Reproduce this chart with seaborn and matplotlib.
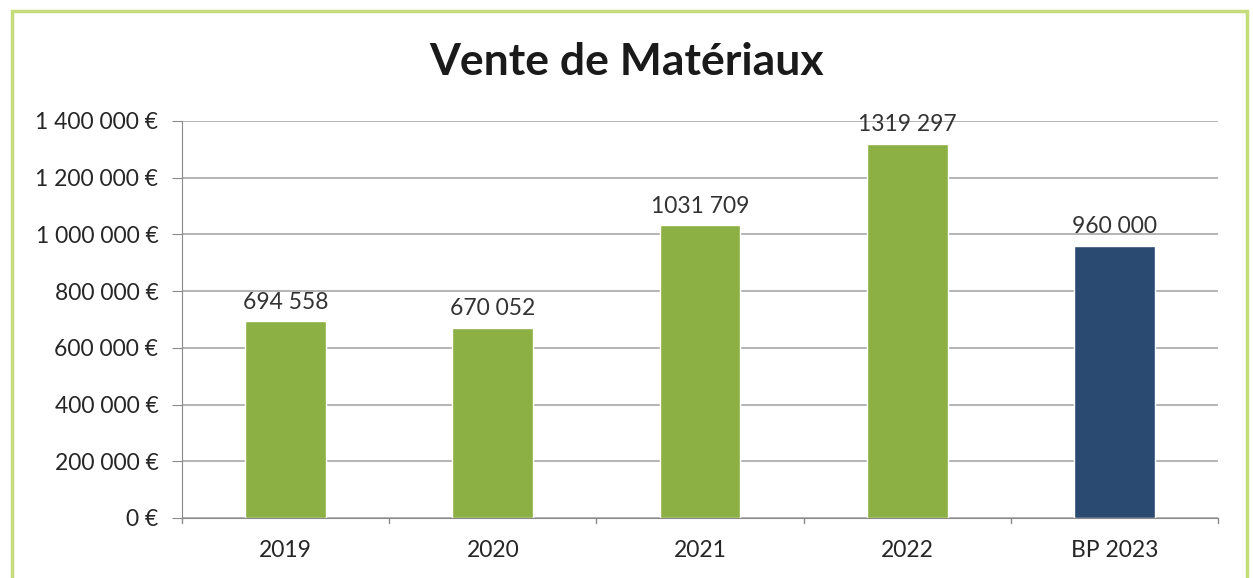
import matplotlib
matplotlib.use("Agg")
import matplotlib.pyplot as plt
import seaborn as sns
import pandas as pd
from matplotlib.patches import Rectangle

categories = ["2019", "2020", "2021", "2022", "BP 2023"]
values = [694558, 670052, 1031709, 1319297, 960000]
labels = ["694 558", "670 052", "1031 709", "1319 297", "960 000"]
bar_colors = ["#8CB043", "#8CB043", "#8CB043", "#8CB043", "#2B4A72"]
yticks = [0, 200000, 400000, 600000, 800000, 1000000, 1200000, 1400000]

sns.set_style("white")
plt.rcParams['font.family'] = ['Lato', 'DejaVu Sans']

df = pd.DataFrame({"cat": categories, "val": values})

fig = plt.figure(figsize=(12.53, 5.78), dpi=100)
ax = fig.add_axes([182/1253, 1 - 518/578, (1218-182)/1253, (518-121)/578])

sns.barplot(data=df, x="cat", y="val", hue="cat", palette=bar_colors,
            legend=False, width=0.39, ax=ax, saturation=1)

ax.set_ylim(0, 1400000)
ax.set_xlim(-0.5, 4.5)
ax.set_yticks(yticks)
ax.set_yticklabels([f"{v:,}".replace(",", " ") + " €" if v else "0 €" for v in yticks])
ax.yaxis.grid(True, color="#a8a8a8", linewidth=1.2)
ax.set_axisbelow(True)
ax.set_xlabel("")
ax.set_ylabel("")

for s in ["top", "right"]:
    ax.spines[s].set_visible(False)
ax.spines["left"].set_color("#8a8a8a")
ax.spines["bottom"].set_color("#8a8a8a")

ax.tick_params(axis="y", length=7, color="#8a8a8a", labelsize=16.5, pad=10, left=True)
ax.tick_params(axis="x", length=0, labelsize=16.5, pad=16)
for b in [-0.5, 0.5, 1.5, 2.5, 3.5, 4.5]:
    ax.plot([b, b], [0, -18000], color="#8a8a8a", lw=1, clip_on=False)

for i, (v, lab) in enumerate(zip(values, labels)):
    ax.text(i, v + 30000, lab, ha="center", va="bottom", fontsize=16.5, color="#333333")

fig.text(0.5, 1 - 62/578, "Vente de Matériaux", ha="center", va="center",
         fontsize=32, fontweight="bold", color="#1a1a1a")

border = Rectangle((12/1253, -0.02), (1247-12)/1253, 1 - 11/578 + 0.02,
                   transform=fig.transFigure, fill=False, edgecolor="#c5dc7a",
                   linewidth=2.5)
fig.patches.append(border)

fig.savefig("out.png", dpi=100)
